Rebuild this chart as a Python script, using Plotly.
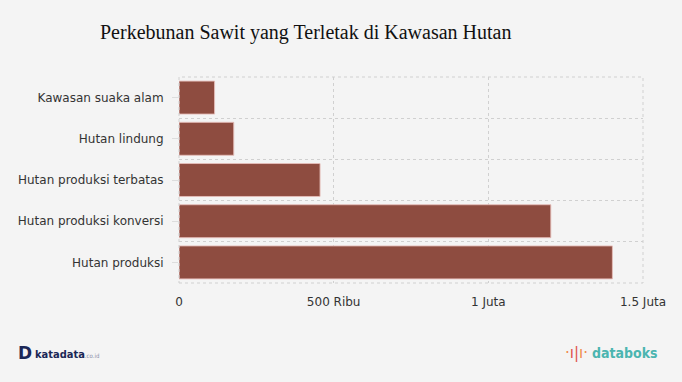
import plotly.graph_objects as go

categories = ["Hutan produksi", "Hutan produksi konversi", "Hutan produksi terbatas",
              "Hutan lindung", "Kawasan suaka alam"]
values = [1401000, 1202000, 456000, 177000, 115000]
x_tickvals = [0, 500000, 1000000, 1500000]
x_ticktext = ["0", "500 Ribu", "1 Juta", "1.5 Juta"]

W, H = 682, 382
L, R, T, B = 179, 39, 77, 99
PW, PH = W - L - R, H - T - B
positions = list(range(len(categories)))
GRID = "#d0d0d0"
DASH = "3px,3px"

fig = go.Figure()
fig.add_trace(go.Bar(
    y=positions, x=values, orientation="h", width=0.8,
    marker=dict(color="#8e4c40", line=dict(color="rgba(230,190,185,0.9)", width=1)),
    hoverinfo="x+y",
))

fig.update_layout(
    width=W, height=H,
    paper_bgcolor="#f4f4f4", plot_bgcolor="#f4f4f4",
    margin=dict(l=L, r=R, t=T, b=B),
    showlegend=False,
    bargap=0.2,
    title=dict(text="Perkebunan Sawit yang Terletak di Kawasan Hutan",
               font=dict(family="Liberation Serif", size=20, color="#111"),
               x=100 / W, xanchor="left", xref="container",
               y=1 - 32 / H, yanchor="middle", yref="container"),
    font=dict(family="DejaVu Sans", size=12, color="#333"),
)

fig.update_xaxes(
    range=[0, 1500000], tickvals=x_tickvals, ticktext=x_ticktext,
    showgrid=True, gridcolor=GRID, griddash=DASH, gridwidth=1,
    zeroline=False, showline=False, ticks="", layer="above traces",
    tickfont=dict(family="DejaVu Sans", size=12, color="#333"),
    ticklabelstandoff=10,
)
fig.update_yaxes(
    range=[-0.5, len(categories) - 0.5], tickvals=positions, ticktext=categories,
    showgrid=False, zeroline=False, showline=False,
    ticks="outside", ticklen=6, tickcolor="#dddddd", tickwidth=1,
    ticklabelstandoff=6,
    tickfont=dict(family="DejaVu Sans", size=12, color="#333"),
    minor=dict(tickvals=[p - 0.5 for p in positions] + [len(categories) - 0.5],
               showgrid=True, gridcolor=GRID, griddash=DASH, gridwidth=1, ticks=""),
)

# dashed frame around the plotting area
fig.add_shape(type="rect", xref="paper", yref="paper", x0=0, x1=1, y0=0, y1=1,
              line=dict(color=GRID, width=1, dash=DASH), layer="above")

# Branding
def px_x(x):
    return (x - L) / PW

def px_y(y):
    return (H - B - y) / PH

fig.add_annotation(xref="paper", yref="paper", x=px_x(33), y=px_y(353),
                   xanchor="right", yanchor="middle", showarrow=False, borderpad=0,
                   text="<b>D</b>", font=dict(family="DejaVu Sans", size=17, color="#1b2756"))
fig.add_annotation(xref="paper", yref="paper", x=px_x(34), y=px_y(354),
                   xanchor="left", yanchor="middle", showarrow=False, borderpad=0,
                   text="<b>katadata</b><span style='font-size:6px;color:#8a8fa8'>.co.id</span>",
                   font=dict(family="DejaVu Sans Condensed", size=11, color="#1b2756"))
fig.add_annotation(xref="paper", yref="paper", x=px_x(591), y=px_y(353),
                   xanchor="left", yanchor="middle", showarrow=False, borderpad=0,
                   text="<b>databoks</b>",
                   font=dict(family="DejaVu Sans Condensed", size=14, color="#4bb5b0"))
fig.add_annotation(xref="paper", yref="paper", x=px_x(589), y=px_y(353),
                   xanchor="right", yanchor="middle", showarrow=False, borderpad=0,
                   text="<span style='color:#f08a4b'>·</span><span style='color:#e0524a'>ı</span><span style='color:#e0524a'>|</span><span style='color:#f08a4b'>ı</span><span style='color:#f08a4b'>·</span>",
                   font=dict(family="DejaVu Sans", size=15, color="#e0524a"))

fig.write_html("out.html", config={"displayModeBar": False},
               post_script="document.body.style.margin='0';document.body.style.overflow='hidden';")
